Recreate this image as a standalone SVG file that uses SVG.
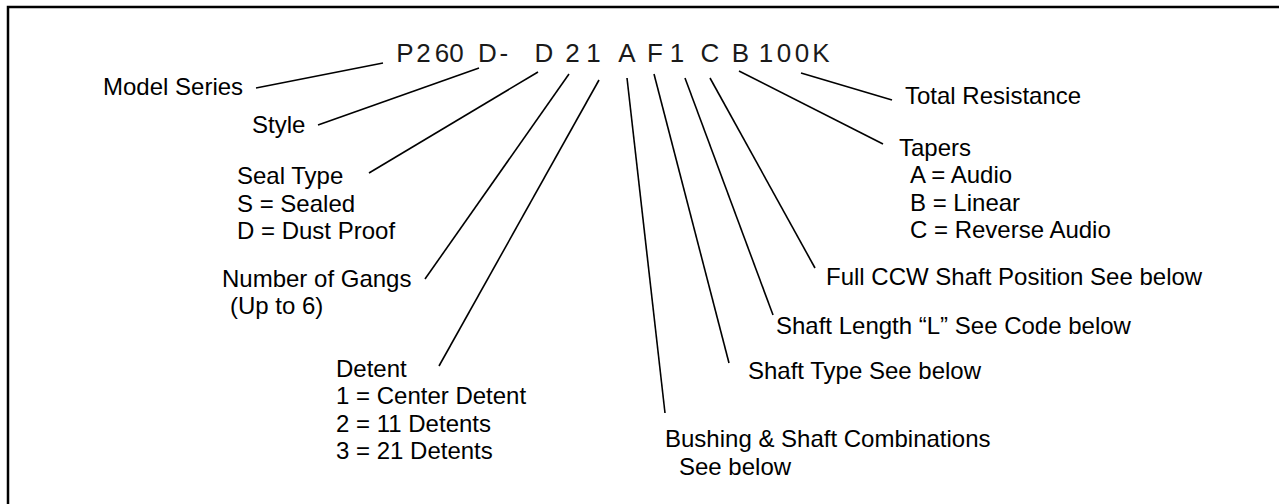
<svg xmlns="http://www.w3.org/2000/svg" width="1279" height="504" viewBox="0 0 1279 504">
  <style>
    .lbl { font-family: "Liberation Sans", Arial, sans-serif; font-size: 24px; fill: #000; }
    .code { font-family: "Liberation Sans", Arial, sans-serif; font-size: 26px; fill: #1a1a1a; text-anchor: middle; }
    .conn line { stroke: #000; stroke-width: 1.6; stroke-linecap: butt; }
  </style>
  <rect x="0" y="0" width="1279" height="504" fill="#fff"/>
  <path d="M8,504 V7 H1279" fill="none" stroke="#000" stroke-width="2.5"/>

  <g id="code">
    <text class="code" y="62">
      <tspan x="405">P</tspan><tspan x="423.5">2</tspan><tspan x="442">6</tspan><tspan x="460">0</tspan>
      <tspan x="487.5">D</tspan><tspan x="507.5">-</tspan>
      <tspan x="544">D</tspan><tspan x="572.5">2</tspan><tspan x="597">1</tspan>
      <tspan x="627">A</tspan><tspan x="655">F</tspan><tspan x="680.5">1</tspan>
      <tspan x="710">C</tspan><tspan x="744">B</tspan>
      <tspan x="766">1</tspan><tspan x="784">0</tspan><tspan x="802">0</tspan><tspan x="821">K</tspan>
    </text>
  </g>

  <g id="connectors" class="conn">
    <line x1="256" y1="88" x2="383" y2="63"/>
    <line x1="318" y1="125" x2="479" y2="68"/>
    <line x1="369" y1="173" x2="538" y2="72"/>
    <line x1="425" y1="279" x2="569" y2="74"/>
    <line x1="439" y1="366" x2="599" y2="80"/>
    <line x1="665" y1="413" x2="627" y2="78"/>
    <line x1="729" y1="363" x2="654" y2="74"/>
    <line x1="773" y1="315" x2="685" y2="78"/>
    <line x1="815" y1="268" x2="710" y2="78"/>
    <line x1="883" y1="144" x2="739" y2="71"/>
    <line x1="892" y1="100" x2="801" y2="73"/>
  </g>

  <g id="model-series"><text class="lbl" x="103" y="95">Model Series</text></g>
  <g id="style"><text class="lbl" x="252" y="133">Style</text></g>
  <g id="seal-type">
    <text class="lbl" x="237" y="184">Seal Type</text>
    <text class="lbl" x="237" y="211.5">S = Sealed</text>
    <text class="lbl" x="237" y="239">D = Dust Proof</text>
  </g>
  <g id="gangs">
    <text class="lbl" x="222" y="287">Number of Gangs</text>
    <text class="lbl" x="230" y="314">(Up to 6)</text>
  </g>
  <g id="detent">
    <text class="lbl" x="336" y="376.5">Detent</text>
    <text class="lbl" x="336" y="404">1 = Center Detent</text>
    <text class="lbl" x="336" y="431.5">2 = 11 Detents</text>
    <text class="lbl" x="336" y="459">3 = 21 Detents</text>
  </g>
  <g id="bushing">
    <text class="lbl" x="665" y="447">Bushing &amp; Shaft Combinations</text>
    <text class="lbl" x="679" y="475">See below</text>
  </g>
  <g id="shaft-type"><text class="lbl" x="748" y="379">Shaft Type See below</text></g>
  <g id="shaft-length"><text class="lbl" x="776" y="334">Shaft Length “L” See Code below</text></g>
  <g id="ccw"><text class="lbl" x="826" y="285">Full CCW Shaft Position See below</text></g>
  <g id="tapers">
    <text class="lbl" x="899" y="155.5">Tapers</text>
    <text class="lbl" x="910" y="183">A = Audio</text>
    <text class="lbl" x="910" y="210.5">B = Linear</text>
    <text class="lbl" x="910" y="238">C = Reverse Audio</text>
  </g>
  <g id="total-resistance"><text class="lbl" x="905" y="104">Total Resistance</text></g>
</svg>
